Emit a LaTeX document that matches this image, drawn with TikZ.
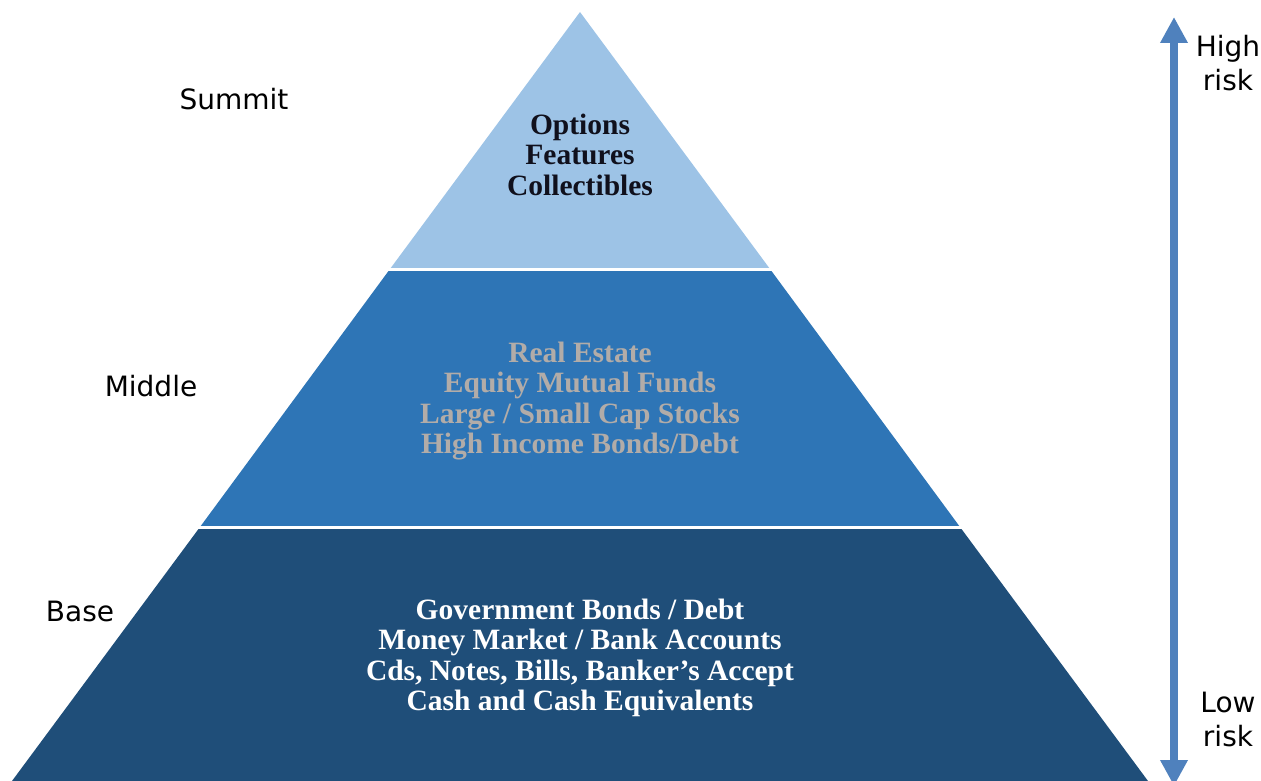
\documentclass[tikz,border=0pt]{standalone}
\usepackage{fontspec}
\setmainfont{Liberation Serif}
\newfontfamily\labelfont{DejaVu Sans}
\usetikzlibrary{arrows.meta}
\definecolor{topBlue}{HTML}{9DC3E6}
\definecolor{midBlue}{HTML}{2E75B6}
\definecolor{baseBlue}{HTML}{1F4E79}
\definecolor{arrowBlue}{HTML}{4F81BD}
\definecolor{midText}{HTML}{B2ACA8}
\definecolor{topText}{HTML}{10101C}

\begin{document}
\begin{tikzpicture}[
    x=1pt, y=-1pt,
    tier/.style={%
      align=center,
      inner sep=0pt,
      font=\bfseries\fontsize{29.5}{30.5}\selectfont,
    },
    side/.style={%
      align=center,
      inner sep=0pt,
      font=\labelfont\fontsize{28}{34}\selectfont,
    },
    gap/.style={white, line width=3pt},
    risk/.style={%
      arrowBlue,
      line width=8.5pt,
      {Triangle[width=26pt,length=26pt]}-{Triangle[width=26pt,length=26pt]},
    },
  ]
    \useasboundingbox (0,0) rectangle (1261,781);

    % pyramid tiers
    \fill [topBlue] (580,12) -- (390,269) -- (770,269) -- cycle;
    \fill [midBlue] (390,269) -- (200,527) -- (960,527) -- (770,269) -- cycle;
    \fill [baseBlue] (200,527) -- (12,781) -- (1148,781) -- (960,527) -- cycle;
    \draw [gap] (385,269) -- (775,269);
    \draw [gap] (195,527.5) -- (965,527.5);

    \node [tier, text=topText] (A) at (580,154.5) {Options\\Features\\Collectibles};
    \node [tier, text=midText] (B) at (580,401) {Real Estate\\Equity Mutual Funds\\Large / Small Cap Stocks\\High Income Bonds/Debt};
    \node [tier, text=white] (C) at (580,658) {Government Bonds / Debt\\Money Market / Bank Accounts\\Cds, Notes, Bills, Banker’s Accept\\Cash and Cash Equivalents};

    \node [side] (S) at (234,99) {Summit};
    \node [side] (M) at (151,386) {Middle};
    \node [side] (N) at (80,611) {Base};

    % risk scale
    \coordinate (hiEnd) at (1174,17);
    \coordinate (loEnd) at (1174,786);
    \draw [risk] (loEnd) -- (hiEnd);
    \node [side] (H) at (1228,63) {High\\risk};
    \node [side] (L) at (1228,719) {Low\\risk};
\end{tikzpicture}
\end{document}
